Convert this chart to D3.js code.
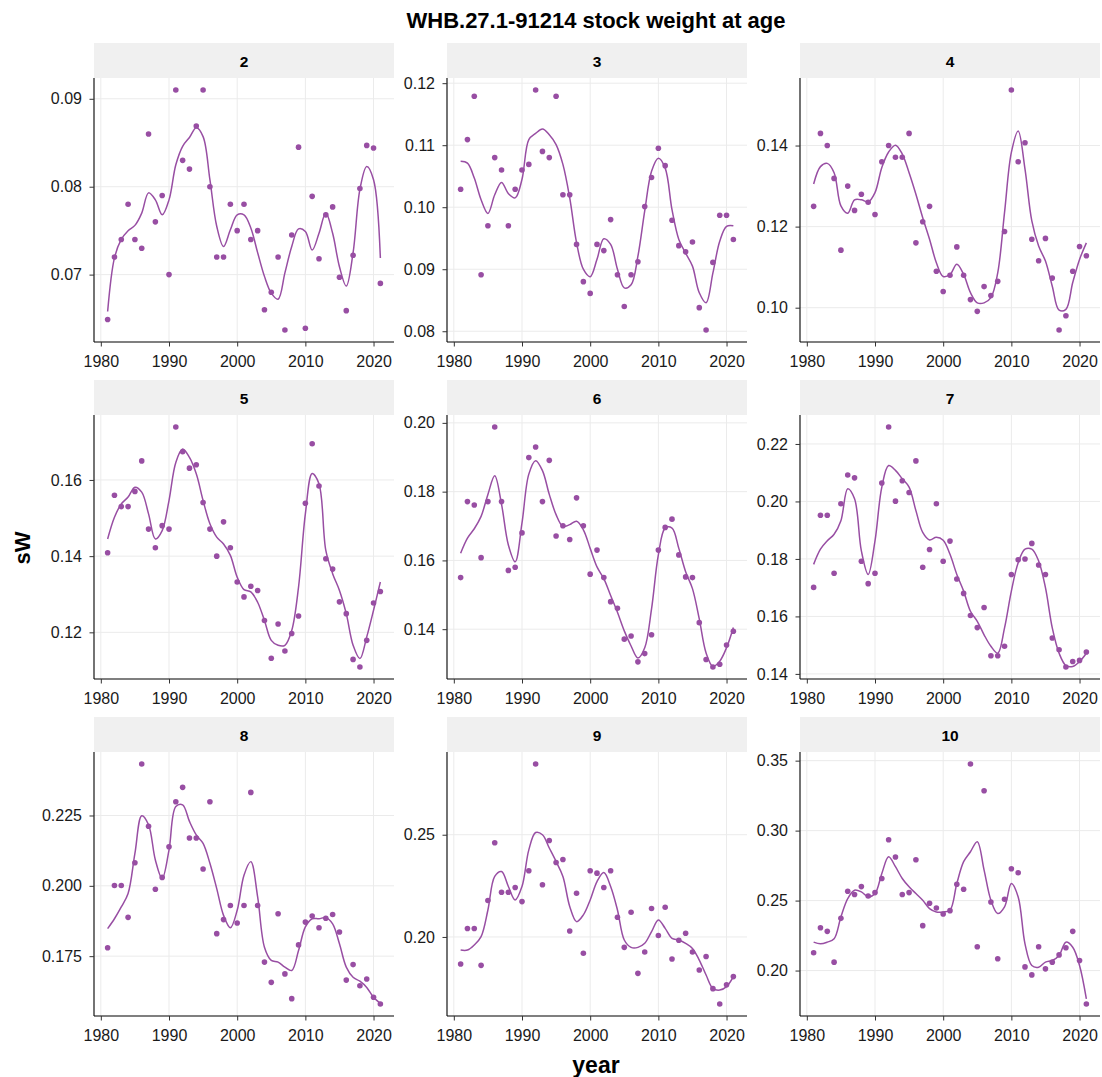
<!DOCTYPE html>
<html><head><meta charset="utf-8">
<script src="https://cdn.jsdelivr.net/npm/d3@7"></script>
<style>body{margin:0;background:#fff;font-family:"Liberation Sans",Arial,sans-serif;}</style>
</head><body><svg id="c" width="1102" height="1077"></svg>
<script>
const years = d3.range(1981, 2022);
const ages = ["2","3","4","5","6","7","8","9","10"];

const sw2 = [0.0649,0.0720,0.0740,0.0780,0.0740,0.0730,0.0860,0.0760,0.0790,0.0700,0.0910,0.0830,0.0820,0.0869,0.0910,0.0800,0.0720,0.0720,0.0780,0.0750,0.0780,0.0740,0.0750,0.0660,0.0680,0.0720,0.0637,0.0745,0.0845,0.0639,0.0789,0.0718,0.0768,0.0777,0.0697,0.0659,0.0722,0.0798,0.0847,0.0844,0.0690];
const fit2 = [0.0658,0.0719,0.0740,0.0750,0.0756,0.0770,0.0793,0.0785,0.0768,0.0785,0.0825,0.0846,0.0856,0.0867,0.0857,0.0808,0.0755,0.0732,0.0751,0.0768,0.0768,0.0753,0.0725,0.0698,0.0679,0.0672,0.0702,0.0732,0.0752,0.0749,0.0728,0.0747,0.0770,0.0747,0.0709,0.0687,0.0725,0.0797,0.0823,0.0808,0.0719];

const sw3 = [0.1029,0.1109,0.1179,0.0891,0.0970,0.1080,0.1060,0.0970,0.1029,0.1060,0.1069,0.1189,0.1090,0.1080,0.1179,0.1020,0.1020,0.0940,0.0880,0.0861,0.0940,0.0930,0.0980,0.0891,0.0840,0.0891,0.0912,0.1001,0.1048,0.1095,0.1067,0.0979,0.0938,0.0928,0.0944,0.0838,0.0802,0.0911,0.0987,0.0987,0.0948];
const fit3 = [0.1074,0.1071,0.1047,0.1012,0.0990,0.1020,0.1040,0.1022,0.1015,0.1045,0.1109,0.1119,0.1126,0.1117,0.1101,0.1069,0.1015,0.0943,0.0900,0.0888,0.0916,0.0949,0.0940,0.0900,0.0870,0.0875,0.0921,0.0994,0.1058,0.1079,0.1063,0.0996,0.0948,0.0926,0.0905,0.0862,0.0846,0.0894,0.0945,0.0969,0.0970];

const sw4 = [0.1250,0.1430,0.1400,0.1319,0.1142,0.1300,0.1240,0.1280,0.1260,0.1230,0.1360,0.1400,0.1371,0.1371,0.1430,0.1160,0.1212,0.1250,0.1090,0.1040,0.1080,0.1150,0.1080,0.1020,0.0991,0.1052,0.1030,0.1065,0.1188,0.1537,0.1360,0.1407,0.1169,0.1116,0.1171,0.1073,0.0945,0.0980,0.1090,0.1151,0.1128];
const fit4 = [0.1305,0.1348,0.1356,0.1333,0.1251,0.1233,0.1266,0.1266,0.1261,0.1284,0.1346,0.1384,0.1401,0.1379,0.1333,0.1280,0.1222,0.1169,0.1111,0.1077,0.1082,0.1107,0.1082,0.1037,0.1012,0.1012,0.1025,0.1086,0.1235,0.1383,0.1436,0.1342,0.1214,0.1152,0.1115,0.1053,0.0994,0.0996,0.1062,0.1119,0.1160];

const sw5 = [0.1409,0.1560,0.1530,0.1530,0.1570,0.1650,0.1471,0.1422,0.1480,0.1471,0.1739,0.1674,0.1631,0.1640,0.1541,0.1471,0.1400,0.1490,0.1422,0.1332,0.1293,0.1321,0.1310,0.1231,0.1132,0.1222,0.1151,0.1197,0.1243,0.1539,0.1695,0.1584,0.1393,0.1366,0.1280,0.1249,0.1129,0.1109,0.1179,0.1277,0.1307];
const fit5 = [0.1445,0.1502,0.1537,0.1555,0.1581,0.1568,0.1511,0.1445,0.1467,0.1546,0.1646,0.1681,0.1659,0.1616,0.1546,0.1485,0.1450,0.1432,0.1402,0.1345,0.1312,0.1306,0.1279,0.1231,0.1179,0.1166,0.1166,0.1205,0.1319,0.1511,0.1617,0.1590,0.1415,0.1354,0.1310,0.1249,0.1166,0.1131,0.1188,0.1258,0.1332];

const sw6 = [0.1550,0.1771,0.1761,0.1608,0.1771,0.1988,0.1771,0.1571,0.1580,0.1680,0.1899,0.1930,0.1771,0.1891,0.1671,0.1701,0.1661,0.1782,0.1701,0.1560,0.1630,0.1550,0.1480,0.1461,0.1371,0.1380,0.1305,0.1329,0.1384,0.1630,0.1696,0.1720,0.1616,0.1552,0.1550,0.1419,0.1312,0.1290,0.1298,0.1354,0.1394];
const fit6 = [0.1621,0.1665,0.1692,0.1728,0.1792,0.1846,0.1763,0.1645,0.1596,0.1709,0.1851,0.1890,0.1861,0.1792,0.1733,0.1699,0.1704,0.1714,0.1689,0.1635,0.1581,0.1547,0.1498,0.1449,0.1395,0.1351,0.1316,0.1346,0.1459,0.1616,0.1694,0.1694,0.1635,0.1567,0.1518,0.1430,0.1331,0.1292,0.1307,0.1346,0.1405];

const sw7 = [0.1701,0.1952,0.1952,0.1750,0.1992,0.2092,0.2082,0.1792,0.1714,0.1750,0.2064,0.2259,0.2001,0.2072,0.2031,0.2141,0.1771,0.1833,0.1992,0.1792,0.1862,0.1730,0.1680,0.1603,0.1561,0.1631,0.1463,0.1463,0.1496,0.1746,0.1797,0.1800,0.1854,0.1779,0.1746,0.1525,0.1484,0.1424,0.1443,0.1447,0.1476];
const fit7 = [0.1781,0.1834,0.1863,0.1886,0.1933,0.2044,0.2009,0.1828,0.1746,0.1863,0.2050,0.2125,0.2108,0.2079,0.2050,0.1968,0.1892,0.1866,0.1875,0.1865,0.1816,0.1746,0.1688,0.1618,0.1583,0.1536,0.1496,0.1472,0.1560,0.1688,0.1787,0.1834,0.1834,0.1793,0.1700,0.1560,0.1472,0.1429,0.1426,0.1443,0.1472];

const sw8 = [0.1780,0.2001,0.2001,0.1888,0.2082,0.2433,0.2212,0.1988,0.2030,0.2139,0.2299,0.2350,0.2170,0.2170,0.2060,0.2299,0.1830,0.1880,0.1930,0.1868,0.1930,0.2332,0.1930,0.1729,0.1657,0.1901,0.1687,0.1599,0.1790,0.1871,0.1893,0.1851,0.1885,0.1898,0.1836,0.1665,0.1720,0.1645,0.1669,0.1604,0.1580];
const fit8 = [0.1848,0.1883,0.1925,0.1973,0.2115,0.2249,0.2217,0.2092,0.2026,0.2127,0.2282,0.2288,0.2229,0.2181,0.2151,0.2080,0.1990,0.1895,0.1851,0.1913,0.2038,0.2086,0.1961,0.1782,0.1735,0.1729,0.1711,0.1699,0.1770,0.1854,0.1883,0.1883,0.1887,0.1865,0.1794,0.1711,0.1675,0.1661,0.1639,0.1604,0.1582];

const sw9 = [0.1868,0.2041,0.2041,0.1861,0.2178,0.2461,0.2219,0.2219,0.2242,0.2173,0.2324,0.2846,0.2255,0.2472,0.2364,0.2379,0.2029,0.2214,0.1920,0.2324,0.2312,0.2242,0.2324,0.2096,0.1949,0.2121,0.1822,0.1926,0.2139,0.2007,0.2145,0.1892,0.1984,0.2018,0.1926,0.1838,0.1904,0.1747,0.1672,0.1766,0.1806];
const fit9 = [0.1936,0.1936,0.1961,0.2002,0.2132,0.2296,0.2320,0.2247,0.2181,0.2247,0.2426,0.2511,0.2500,0.2435,0.2369,0.2296,0.2149,0.2075,0.2108,0.2181,0.2271,0.2315,0.2247,0.2132,0.1985,0.1949,0.1949,0.1969,0.2026,0.2083,0.2042,0.1993,0.1985,0.1969,0.1944,0.1887,0.1814,0.1748,0.1740,0.1757,0.1806];

const sw10 = [0.2127,0.2306,0.2280,0.2060,0.2373,0.2567,0.2543,0.2600,0.2533,0.2557,0.2658,0.2935,0.2811,0.2543,0.2557,0.2792,0.2321,0.2481,0.2447,0.2404,0.2428,0.2617,0.2581,0.3476,0.2170,0.3285,0.2490,0.2084,0.2510,0.2727,0.2699,0.2026,0.1969,0.2170,0.2012,0.2060,0.2112,0.2163,0.2280,0.2072,0.1761];
const fit10 = [0.2203,0.2191,0.2203,0.2227,0.2383,0.2514,0.2574,0.2562,0.2526,0.2550,0.2694,0.2813,0.2742,0.2658,0.2598,0.2550,0.2502,0.2443,0.2419,0.2419,0.2431,0.2622,0.2778,0.2849,0.2921,0.2718,0.2502,0.2407,0.2455,0.2622,0.2526,0.2191,0.2036,0.2024,0.2060,0.2072,0.2108,0.2203,0.2167,0.2036,0.1797];

const xTicks = [1980, 1990, 2000, 2010, 2020];
const yTicks2 = ["0.07","0.08","0.09"];
const yTicks3 = ["0.08","0.09","0.10","0.11","0.12"];
const yTicks4 = ["0.10","0.12","0.14"];
const yTicks5 = ["0.12","0.14","0.16"];
const yTicks6 = ["0.14","0.16","0.18","0.20"];
const yTicks7 = ["0.14","0.16","0.18","0.20","0.22"];
const yTicks8 = ["0.175","0.200","0.225"];
const yTicks9 = ["0.20","0.25"];
const yTicks10 = ["0.20","0.25","0.30","0.35"];

const points = [sw2, sw3, sw4, sw5, sw6, sw7, sw8, sw9, sw10];
const fits = [fit2, fit3, fit4, fit5, fit6, fit7, fit8, fit9, fit10];
const yTickLabels = [yTicks2, yTicks3, yTicks4, yTicks5, yTicks6, yTicks7, yTicks8, yTicks9, yTicks10];

const title = "WHB.27.1-91214 stock weight at age";
const xTitle = "year", yTitle = "sW";

const colX = [94, 447, 800], rowY = [43, 380, 717];
const panelW = 300, stripH = 35, plotH = 264;
const col = "#984EA3";

const svg = d3.select("#c");
svg.append("text").attr("x", 596).attr("y", 28).attr("text-anchor", "middle")
  .attr("font-size", 22).attr("font-weight", "bold").attr("fill", "#000").text(title);
svg.append("text").attr("x", 596).attr("y", 1073).attr("text-anchor", "middle")
  .attr("font-size", 23).attr("font-weight", "bold").attr("fill", "#000").text(xTitle);
svg.append("text").attr("transform", "translate(30,548) rotate(-90)").attr("text-anchor", "middle")
  .attr("font-size", 22).attr("font-weight", "bold").attr("fill", "#000").text(yTitle);

ages.forEach((age, i) => {
  const cx = colX[i % 3], ry = rowY[Math.floor(i / 3)];
  const g = svg.append("g").attr("transform", `translate(${cx},${ry})`);
  // strip
  g.append("rect").attr("x", 0).attr("y", 0).attr("width", panelW).attr("height", stripH).attr("fill", "#f0f0f0");
  g.append("text").attr("x", panelW / 2).attr("y", stripH / 2 + 6).attr("text-anchor", "middle")
    .attr("font-size", 15.5).attr("font-weight", "bold").attr("fill", "#000").text(age);

  const pg = g.append("g").attr("transform", `translate(0,${stripH})`);
  const x = d3.scaleLinear().domain([1981 - 2, 2021 + 2]).range([0, panelW]);
  const all = points[i].concat(fits[i]);
  const lo = d3.min(all), hi = d3.max(all), pad = (hi - lo) * 0.05;
  const y = d3.scaleLinear().domain([lo - pad, hi + pad]).range([plotH, 0]);
  const yt = yTickLabels[i].map(Number);

  // grid
  pg.selectAll(".gx").data(xTicks).join("line")
    .attr("x1", d => x(d)).attr("x2", d => x(d)).attr("y1", 0).attr("y2", plotH)
    .attr("stroke", "#ebebeb").attr("stroke-width", 1);
  pg.selectAll(".gy").data(yt).join("line")
    .attr("x1", 0).attr("x2", panelW).attr("y1", d => y(d)).attr("y2", d => y(d))
    .attr("stroke", "#ebebeb").attr("stroke-width", 1);

  // axes
  const xa = pg.append("g").attr("transform", `translate(0,${plotH})`)
    .call(d3.axisBottom(x).tickValues(xTicks).tickFormat(d3.format("d")).tickSize(4.5).tickPadding(9));
  const ya = pg.append("g")
    .call(d3.axisLeft(y).tickValues(yt).tickFormat((d, k) => yTickLabels[i][k]).tickSize(4.5).tickPadding(7.5));
  [xa, ya].forEach(a => {
    a.select(".domain").attr("stroke", "#000").attr("stroke-width", 1.1);
    a.selectAll(".tick line").attr("stroke", "#333");
    a.selectAll(".tick text").attr("font-size", 16).attr("fill", "#1a1a1a")
      .attr("font-family", "Liberation Sans, Arial, sans-serif");
  });
  xa.select(".domain").attr("d", `M0,0H${panelW}`);
  ya.select(".domain").attr("d", `M0,0V${plotH}`);

  // smooth line
  const line = d3.line().x((d, k) => x(years[k])).y(d => y(d)).curve(d3.curveCatmullRom.alpha(0.5));
  pg.append("path").datum(fits[i]).attr("d", line).attr("fill", "none")
    .attr("stroke", col).attr("stroke-width", 1.5);
  // points
  pg.selectAll(".pt").data(points[i]).join("circle")
    .attr("cx", (d, k) => x(years[k])).attr("cy", d => y(d)).attr("r", 2.8).attr("fill", col);
});
</script></body></html>
